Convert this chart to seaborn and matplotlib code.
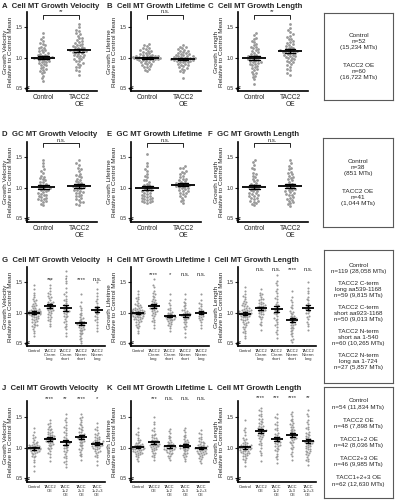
import numpy as np
import pandas as pd
import matplotlib
matplotlib.use('Agg')
import matplotlib.pyplot as plt
import seaborn as sns

sns.set_style('white')
plt.rcParams['font.family'] = ['Liberation Sans', 'DejaVu Sans']

# ---------------------------
# Datos (valores relativos a la media del control)
# ---------------------------
groups_oe = ['Control', 'TACC2\nOE']
groups_trunc = ['Control', 'TACC2\nC-term\nlong', 'TACC2\nC-term\nshort',
                'TACC2\nN-term\nshort', 'TACC2\nN-term\nlong']
groups_combo = ['Control', 'TACC2\nOE', 'TACC\n1+2\nOE', 'TACC\n2+3\nOE', 'TACC\n1+2+3\nOE']

# A - Cell velocity
a_ctrl = [1.40, 1.30, 1.27, 1.22, 1.18, 1.15, 1.12, 1.10, 1.07, 1.05, 1.03, 1.01, 1.00,
          0.99, 0.98, 0.96, 0.94, 0.92, 0.90, 0.88, 0.85, 0.82, 0.78, 0.74, 0.66, 0.62,
          1.34, 1.24, 1.20, 1.16, 1.13, 1.09, 1.06, 1.04, 1.02, 1.01, 1.00, 0.99, 0.97,
          0.95, 0.93, 0.91, 0.87, 0.83, 0.80, 0.76, 0.70]
a_oe = [1.55, 1.50, 1.44, 1.40, 1.36, 1.32, 1.29, 1.26, 1.23, 1.20, 1.18, 1.16, 1.14, 1.12,
        1.11, 1.09, 1.07, 1.05, 1.03, 1.01, 0.99, 0.97, 0.94, 0.91, 0.88, 0.84, 0.78, 0.72,
        1.46, 1.38, 1.33, 1.28, 1.24, 1.21, 1.19, 1.17, 1.15, 1.13, 1.12, 1.11, 1.10, 1.08,
        1.06, 1.04, 1.02, 0.98, 0.95, 0.90, 0.85, 0.80]
# B - Cell lifetime
b_ctrl = [1.22, 1.19, 1.16, 1.14, 1.12, 1.10, 1.08, 1.07, 1.05, 1.04, 1.03, 1.02, 1.01, 1.00,
          1.00, 0.99, 0.98, 0.97, 0.96, 0.95, 0.93, 0.92, 0.90, 0.88, 0.86, 0.84, 0.81, 0.78,
          1.20, 1.15, 1.11, 1.09, 1.06, 1.04, 1.03, 1.02, 1.01, 1.00, 0.99, 0.99, 0.98, 0.97,
          0.96, 0.94, 0.91, 0.89, 0.85, 0.80]
b_oe = [1.20, 1.17, 1.15, 1.13, 1.11, 1.09, 1.07, 1.06, 1.04, 1.03, 1.02, 1.01, 1.00, 0.99,
        0.98, 0.97, 0.96, 0.95, 0.93, 0.92, 0.90, 0.88, 0.86, 0.84, 0.82, 0.80, 0.76, 0.67,
        1.18, 1.14, 1.10, 1.08, 1.06, 1.04, 1.02, 1.01, 1.00, 0.99, 0.98, 0.97, 0.96, 0.95,
        0.94, 0.92, 0.89, 0.87, 0.83, 0.78]
# C - Cell length
c_ctrl = [1.40, 1.37, 1.30, 1.25, 1.20, 1.17, 1.14, 1.11, 1.08, 1.05, 1.02, 1.00, 0.98,
          0.96, 0.94, 0.92, 0.90, 0.88, 0.86, 0.83, 0.80, 0.77, 0.73, 0.68, 0.64, 0.57,
          1.33, 1.27, 1.22, 1.18, 1.15, 1.12, 1.09, 1.06, 1.03, 1.01, 0.99, 0.97, 0.95,
          0.93, 0.91, 0.89, 0.85, 0.81, 0.75, 0.70]
c_oe = [1.55, 1.48, 1.42, 1.38, 1.34, 1.30, 1.27, 1.24, 1.21, 1.19, 1.16, 1.14, 1.12, 1.10,
        1.09, 1.07, 1.05, 1.03, 1.01, 0.99, 0.97, 0.95, 0.92, 0.89, 0.85, 0.80, 0.74, 0.72,
        1.45, 1.36, 1.31, 1.26, 1.22, 1.18, 1.15, 1.13, 1.11, 1.10, 1.09, 1.08, 1.06, 1.04,
        1.02, 1.00, 0.96, 0.93, 0.87, 0.82]
# D - GC velocity
d_ctrl = [1.45, 1.35, 1.30, 1.25, 1.20, 1.16, 1.12, 1.09, 1.06, 1.03, 1.00, 0.98,
          0.96, 0.94, 0.92, 0.90, 0.88, 0.86, 0.84, 0.82, 0.80, 0.77, 0.74, 0.72,
          1.40, 1.28, 1.18, 1.14, 1.10, 1.05, 1.01, 0.99, 0.97, 0.93, 0.89, 0.85, 0.81, 0.78]
d_oe = [1.45, 1.38, 1.32, 1.27, 1.23, 1.19, 1.15, 1.11, 1.08, 1.05, 1.03, 1.01,
        0.99, 0.97, 0.95, 0.93, 0.91, 0.89, 0.86, 0.83, 0.80, 0.77, 0.74, 0.72,
        1.40, 1.30, 1.21, 1.17, 1.13, 1.09, 1.04, 1.02, 1.00, 0.96, 0.92, 0.87, 0.82, 0.76]
# E - GC lifetime
e_ctrl = [1.55, 1.35, 1.28, 1.22, 1.17, 1.13, 1.10, 1.07, 1.04, 1.01, 0.98, 0.96,
          0.94, 0.92, 0.90, 0.88, 0.86, 0.84, 0.83, 0.81, 0.79, 0.78, 0.76, 0.75,
          1.40, 1.30, 1.19, 1.12, 1.05, 1.02, 0.99, 0.95, 0.91, 0.87, 0.85, 0.82, 0.80, 0.77]
e_oe = [1.35, 1.32, 1.28, 1.24, 1.20, 1.17, 1.14, 1.11, 1.09, 1.07, 1.05, 1.04,
        1.03, 1.02, 1.00, 0.98, 0.96, 0.94, 0.92, 0.90, 0.87, 0.84, 0.80, 0.75,
        1.33, 1.26, 1.22, 1.15, 1.12, 1.08, 1.06, 1.04, 1.01, 0.99, 0.95, 0.91, 0.86, 0.78]
# F - GC length
f_ctrl = [1.45, 1.38, 1.30, 1.25, 1.20, 1.15, 1.11, 1.08, 1.05, 1.02, 1.00, 0.98,
          0.96, 0.94, 0.92, 0.90, 0.88, 0.86, 0.84, 0.82, 0.79, 0.77, 0.74, 0.72,
          1.42, 1.33, 1.22, 1.17, 1.13, 1.06, 1.01, 0.99, 0.95, 0.91, 0.87, 0.83, 0.78, 0.75]
f_oe = [1.45, 1.36, 1.30, 1.26, 1.22, 1.18, 1.14, 1.10, 1.07, 1.04, 1.02, 1.00,
        0.98, 0.96, 0.94, 0.92, 0.90, 0.88, 0.85, 0.82, 0.79, 0.76, 0.73, 0.70,
        1.40, 1.33, 1.24, 1.20, 1.16, 1.12, 1.05, 1.01, 0.97, 0.93, 0.89, 0.84, 0.80, 0.75]

# G - truncaciones, velocidad
g_ctrl = [1.45, 1.38, 1.33, 1.29, 1.25, 1.22, 1.19, 1.16, 1.14, 1.12, 1.10, 1.08, 1.06, 1.05,
          1.04, 1.03, 1.02, 1.01, 1.00, 1.00, 0.99, 0.98, 0.97, 0.96, 0.95, 0.94, 0.92, 0.91,
          0.90, 0.88, 0.86, 0.84, 0.82, 0.80, 0.78, 0.76, 0.73, 0.70, 0.66, 0.62,
          1.20, 1.11, 1.07, 1.05, 1.03, 1.02, 1.01, 1.00, 0.99, 0.98, 0.97, 0.96, 0.93,
          0.89, 0.85, 0.79]
g_cl = [1.55, 1.45, 1.40, 1.35, 1.31, 1.27, 1.24, 1.21, 1.18, 1.16, 1.14, 1.12, 1.10,
        1.09, 1.08, 1.06, 1.05, 1.03, 1.01, 0.99, 0.96, 0.93, 0.90, 0.86, 0.82, 0.78,
        1.33, 1.25, 1.17, 1.13, 1.11, 1.07, 1.04, 0.98, 0.92, 0.88]
g_cs = [1.68, 1.60, 1.48, 1.40, 1.34, 1.28, 1.23, 1.19, 1.15, 1.11, 1.08, 1.05,
        1.02, 1.00, 0.98, 0.95, 0.92, 0.89, 0.86, 0.82, 0.78, 0.73, 0.67, 0.62,
        1.52, 1.30, 1.20, 1.13, 1.06, 1.01, 0.94, 0.84, 0.76]
g_ns = [1.30, 1.18, 1.10, 1.04, 1.00, 0.96, 0.93, 0.90, 0.88, 0.86, 0.84, 0.82, 0.81,
        0.80, 0.79, 0.77, 0.75, 0.73, 0.71, 0.69, 0.67, 0.64, 0.61, 0.58, 0.54, 0.50,
        1.08, 0.98, 0.91, 0.85, 0.83, 0.80, 0.76, 0.72, 0.66, 0.56]
g_nl = [1.50, 1.38, 1.28, 1.22, 1.16, 1.11, 1.07, 1.03, 1.00, 0.97, 0.93, 0.89,
        0.85, 0.80, 0.75, 0.70, 1.32, 1.19, 1.09, 1.01, 0.95, 0.87]
# H - truncaciones, lifetime
h_ctrl = [1.35, 1.30, 1.26, 1.22, 1.19, 1.16, 1.14, 1.12, 1.10, 1.08, 1.07, 1.06, 1.05, 1.04,
          1.03, 1.02, 1.01, 1.00, 1.00, 0.99, 0.99, 0.98, 0.97, 0.96, 0.95, 0.94, 0.93, 0.92,
          0.91, 0.90, 0.89, 0.88, 0.86, 0.84, 0.82, 0.80, 0.77, 0.74, 0.70, 0.66,
          1.24, 1.13, 1.09, 1.06, 1.04, 1.03, 1.02, 1.01, 1.00, 0.99, 0.98, 0.97, 0.95,
          0.93, 0.90, 0.85, 0.78]
h_cl = [1.55, 1.42, 1.36, 1.32, 1.28, 1.25, 1.22, 1.19, 1.17, 1.15, 1.13, 1.11, 1.10,
        1.09, 1.07, 1.05, 1.03, 1.01, 0.99, 0.97, 0.94, 0.91, 0.88, 0.84, 0.80, 0.75,
        1.45, 1.30, 1.20, 1.14, 1.12, 1.08, 1.06, 1.02, 0.96, 0.86]
h_cs = [1.30, 1.20, 1.13, 1.08, 1.04, 1.01, 0.99, 0.97, 0.96, 0.95, 0.94, 0.93,
        0.92, 0.91, 0.90, 0.89, 0.88, 0.87, 0.85, 0.83, 0.81, 0.78, 0.74, 0.70,
        1.16, 1.06, 1.00, 0.96, 0.94, 0.92, 0.90, 0.86, 0.80]
h_ns = [1.30, 1.22, 1.16, 1.12, 1.08, 1.05, 1.03, 1.01, 0.99, 0.98, 0.97, 0.96,
        0.95, 0.94, 0.93, 0.91, 0.89, 0.87, 0.85, 0.82, 0.78, 0.73, 0.66, 0.60,
        1.18, 1.10, 1.04, 1.00, 0.97, 0.94, 0.90, 0.84, 0.76]
h_nl = [1.30, 1.20, 1.14, 1.10, 1.06, 1.03, 1.01, 0.99, 0.97, 0.95, 0.93, 0.91,
        0.88, 0.85, 0.80, 0.75, 1.16, 1.08, 1.02, 0.98, 0.94, 0.90]
# I - truncaciones, longitud
i_ctrl = [1.42, 1.35, 1.30, 1.26, 1.22, 1.19, 1.16, 1.14, 1.12, 1.10, 1.08, 1.06, 1.05, 1.04,
          1.03, 1.02, 1.01, 1.00, 0.99, 0.99, 0.98, 0.97, 0.96, 0.95, 0.94, 0.93, 0.92, 0.90,
          0.88, 0.87, 0.85, 0.83, 0.81, 0.79, 0.76, 0.73, 0.70, 0.66, 0.62, 0.58,
          1.28, 1.17, 1.11, 1.07, 1.04, 1.02, 1.01, 1.00, 0.99, 0.98, 0.97, 0.95, 0.92,
          0.89, 0.84, 0.77, 0.68]
i_cl = [1.38, 1.33, 1.29, 1.26, 1.23, 1.20, 1.18, 1.16, 1.14, 1.12, 1.10, 1.09, 1.08,
        1.07, 1.06, 1.04, 1.03, 1.01, 0.99, 0.97, 0.95, 0.92, 0.89, 0.85, 0.79, 0.72,
        1.31, 1.22, 1.15, 1.11, 1.09, 1.05, 1.02, 0.98, 0.93, 0.82]
i_cs = [1.62, 1.52, 1.45, 1.38, 1.32, 1.27, 1.22, 1.18, 1.14, 1.10, 1.07, 1.04,
        1.02, 1.00, 0.97, 0.94, 0.91, 0.88, 0.85, 0.81, 0.77, 0.72, 0.65, 0.58,
        1.48, 1.35, 1.24, 1.12, 1.05, 0.99, 0.90, 0.79, 0.68]
i_ns = [1.35, 1.25, 1.18, 1.12, 1.07, 1.03, 1.00, 0.97, 0.95, 0.93, 0.91, 0.89, 0.88,
        0.87, 0.85, 0.83, 0.81, 0.79, 0.77, 0.75, 0.72, 0.69, 0.66, 0.62, 0.57, 0.52,
        1.21, 1.09, 1.01, 0.94, 0.90, 0.86, 0.80, 0.74, 0.64, 0.55]
i_nl = [1.50, 1.40, 1.32, 1.26, 1.20, 1.15, 1.11, 1.08, 1.05, 1.02, 0.99, 0.95,
        0.90, 0.85, 0.78, 0.72, 1.36, 1.23, 1.13, 1.06, 1.00, 0.93, 0.82]

# J - combinaciones, velocidad
j_ctrl = [1.32, 1.25, 1.20, 1.16, 1.13, 1.10, 1.08, 1.06, 1.05, 1.04, 1.03, 1.02, 1.01, 1.00, 0.99,
          0.99, 0.98, 0.97, 0.96, 0.95, 0.94, 0.93, 0.91, 0.89, 0.87, 0.84, 0.80, 0.76, 0.70, 0.62,
          1.18, 1.09, 1.04, 1.02, 1.01, 1.00, 0.99, 0.98, 0.97, 0.95, 0.92, 0.86]
j_oe = [1.45, 1.40, 1.36, 1.33, 1.30, 1.28, 1.26, 1.24, 1.22, 1.20, 1.19, 1.17, 1.16, 1.15,
        1.14, 1.13, 1.11, 1.10, 1.08, 1.06, 1.04, 1.02, 1.00, 0.97, 0.94, 0.90, 0.85, 0.78,
        1.38, 1.31, 1.25, 1.21, 1.18, 1.15, 1.12, 1.09, 1.05, 0.99, 0.92]
j_12 = [1.55, 1.48, 1.42, 1.37, 1.32, 1.28, 1.24, 1.20, 1.16, 1.13, 1.10, 1.07,
        1.05, 1.03, 1.01, 0.99, 0.96, 0.93, 0.90, 0.87, 0.83, 0.79, 0.74, 0.68,
        1.45, 1.34, 1.26, 1.18, 1.11, 1.06, 1.00, 0.94, 0.85, 0.76]
j_23 = [1.55, 1.50, 1.45, 1.41, 1.37, 1.34, 1.31, 1.28, 1.25, 1.22, 1.20, 1.18, 1.16,
        1.15, 1.13, 1.11, 1.09, 1.07, 1.05, 1.02, 0.99, 0.96, 0.93, 0.90, 0.86, 0.80,
        1.48, 1.39, 1.32, 1.26, 1.21, 1.17, 1.14, 1.10, 1.04, 0.97, 0.88]
j_123 = [1.40, 1.33, 1.28, 1.24, 1.21, 1.18, 1.16, 1.14, 1.12, 1.11, 1.10, 1.09, 1.08, 1.07, 1.06,
         1.05, 1.04, 1.03, 1.02, 1.01, 1.00, 0.99, 0.97, 0.95, 0.93, 0.91, 0.88, 0.84, 0.79, 0.72,
         1.30, 1.22, 1.17, 1.13, 1.10, 1.08, 1.06, 1.04, 1.02, 0.98, 0.94, 0.86]
# K - combinaciones, lifetime
k_ctrl = [1.32, 1.25, 1.20, 1.16, 1.13, 1.10, 1.08, 1.06, 1.05, 1.04, 1.03, 1.02, 1.01, 1.00, 1.00,
          0.99, 0.98, 0.97, 0.96, 0.95, 0.94, 0.93, 0.92, 0.91, 0.90, 0.88, 0.86, 0.84, 0.81, 0.78,
          1.22, 1.12, 1.07, 1.04, 1.02, 1.01, 1.00, 0.99, 0.98, 0.96, 0.93, 0.89]
k_oe = [1.50, 1.38, 1.32, 1.27, 1.23, 1.20, 1.17, 1.15, 1.13, 1.11, 1.10, 1.09, 1.08, 1.07,
        1.06, 1.05, 1.04, 1.03, 1.02, 1.01, 1.00, 0.98, 0.96, 0.94, 0.91, 0.88, 0.84, 0.80,
        1.42, 1.29, 1.21, 1.16, 1.12, 1.09, 1.06, 1.04, 1.01, 0.97, 0.92, 0.86]
k_12 = [1.30, 1.24, 1.19, 1.15, 1.12, 1.09, 1.07, 1.05, 1.04, 1.03, 1.02, 1.01,
        1.00, 0.99, 0.98, 0.97, 0.96, 0.95, 0.93, 0.91, 0.89, 0.86, 0.83, 0.80,
        1.27, 1.17, 1.10, 1.06, 1.03, 1.01, 0.98, 0.96, 0.92, 0.87]
k_23 = [1.32, 1.26, 1.21, 1.17, 1.14, 1.11, 1.09, 1.07, 1.05, 1.04, 1.03, 1.02,
        1.01, 1.00, 0.99, 0.98, 0.96, 0.94, 0.92, 0.90, 0.88, 0.85, 0.82, 0.78,
        1.29, 1.19, 1.12, 1.08, 1.05, 1.02, 0.99, 0.96, 0.92, 0.86]
k_123 = [1.28, 1.22, 1.18, 1.14, 1.11, 1.09, 1.07, 1.05, 1.04, 1.03, 1.02, 1.01, 1.00, 1.00, 0.99,
         0.98, 0.97, 0.96, 0.95, 0.94, 0.93, 0.92, 0.91, 0.90, 0.88, 0.86, 0.84, 0.81, 0.78, 0.75,
         1.24, 1.16, 1.10, 1.06, 1.03, 1.01, 0.99, 0.97, 0.95, 0.92, 0.89, 0.83]
# L - combinaciones, longitud
l_ctrl = [1.45, 1.32, 1.25, 1.20, 1.16, 1.13, 1.10, 1.08, 1.06, 1.04, 1.03, 1.02, 1.01, 1.00, 0.99,
          0.98, 0.97, 0.96, 0.95, 0.94, 0.93, 0.92, 0.91, 0.90, 0.88, 0.86, 0.83, 0.80, 0.76, 0.70,
          1.28, 1.14, 1.07, 1.04, 1.02, 1.01, 1.00, 0.99, 0.97, 0.95, 0.92, 0.87, 0.82]
l_oe = [1.65, 1.60, 1.55, 1.51, 1.47, 1.44, 1.41, 1.38, 1.36, 1.34, 1.32, 1.30, 1.29, 1.28,
        1.27, 1.25, 1.23, 1.21, 1.19, 1.17, 1.14, 1.11, 1.08, 1.04, 1.00, 0.95, 0.88, 0.78,
        1.62, 1.53, 1.46, 1.40, 1.35, 1.31, 1.27, 1.24, 1.20, 1.15, 1.06, 0.92]
l_12 = [1.55, 1.48, 1.42, 1.37, 1.32, 1.28, 1.24, 1.21, 1.18, 1.16, 1.14, 1.12,
        1.10, 1.08, 1.06, 1.04, 1.02, 1.00, 0.97, 0.94, 0.90, 0.86, 0.81, 0.75,
        1.50, 1.39, 1.30, 1.23, 1.17, 1.13, 1.09, 1.03, 0.96, 0.84]
l_23 = [1.58, 1.52, 1.47, 1.43, 1.40, 1.37, 1.34, 1.31, 1.29, 1.27, 1.25, 1.23, 1.21,
        1.20, 1.18, 1.16, 1.14, 1.12, 1.10, 1.07, 1.04, 1.01, 0.97, 0.93, 0.87, 0.80,
        1.55, 1.45, 1.38, 1.33, 1.28, 1.24, 1.19, 1.15, 1.09, 1.00, 0.90]
l_123 = [1.62, 1.52, 1.45, 1.39, 1.34, 1.30, 1.26, 1.23, 1.20, 1.17, 1.15, 1.13, 1.11, 1.10, 1.09,
         1.08, 1.07, 1.05, 1.03, 1.01, 0.99, 0.97, 0.95, 0.93, 0.91, 0.88, 0.85, 0.82, 0.78, 0.72,
         1.55, 1.42, 1.32, 1.24, 1.19, 1.14, 1.11, 1.09, 1.06, 1.02, 0.98, 0.94, 0.89, 0.80]

# significancia
sig_a, sig_b, sig_c = '**', 'n.s.', '**'
sig_d, sig_e, sig_f = 'n.s.', 'n.s.', 'n.s.'
sig_g = ['***', '*', '****', 'n.s.']
sig_h = ['****', '*', 'n.s.', 'n.s.']
sig_i = ['n.s.', 'n.s.', '****', 'n.s.']
sig_j = ['****', '**', '****', '*']
sig_k = ['***', 'n.s.', 'n.s.', 'n.s.']
sig_l = ['****', '***', '****', '**']

box1 = 'Control\nn=52\n(15,234 MTs)\n\n\nTACC2 OE\nn=60\n(16,722 MTs)'
box2 = 'Control\nn=38\n(851 MTs)\n\n\nTACC2 OE\nn=41\n(1,044 MTs)'
box3 = ('Control\nn=119 (28,058 MTs)\n\nTACC2 C-term\nlong aa539-1168\nn=59 (9,815 MTs)\n\n'
        'TACC2 C-term\nshort aa923-1168\nn=50 (9,013 MTs)\n\nTACC2 N-term\nshort aa 1-540\n'
        'n=60 (10,265 MTs)\n\nTACC2 N-term\nlong aa 1-724\nn=27 (5,857 MTs)')
box4 = ('Control\nn=54 (11,834 MTs)\n\nTACC2 OE\nn=48 (7,898 MTs)\n\nTACC1+2 OE\nn=42 (8,036 MTs)\n\n'
        'TACC2+3 OE\nn=46 (9,985 MTs)\n\nTACC1+2+3 OE\nn=62 (12,630 MTs)')

ylab_v = 'Growth Velocity\nRelative to Control Mean'
ylab_l = 'Growth Lifetime\nRelative to Control Mean'
ylab_g = 'Growth Length\nRelative to Control Mean'

# ---------------------------
# Figura
# ---------------------------
W, H = 395, 500
fig = plt.figure(figsize=(W / 100, H / 100), dpi=100)


def px_axes(l, t, r, b):
    return fig.add_axes([l / W, 1 - b / H, (r - l) / W, (b - t) / H])


def draw_panel(ax, groups, values, ylabel, ylim, mean_w, dot, xfs):
    df = pd.DataFrame({'grp': np.repeat(groups, [len(v) for v in values]),
                       'val': np.concatenate(values)})
    sns.swarmplot(data=df, x='grp', y='val', order=groups, color='0.6',
                  size=dot, ax=ax, zorder=1, warn_thresh=1)
    sns.pointplot(data=df, x='grp', y='val', order=groups, errorbar='se', color='k',
                  marker='_', linestyle='none', markersize=mean_w, markeredgewidth=1.3,
                  capsize=0.3, err_kws={'linewidth': 1.0}, ax=ax)
    n = len(groups)
    ax.set_xlim(-0.45, n - 0.5)
    ax.set_ylim(*ylim)
    ax.set_yticks([0.5, 1.0, 1.5])
    ax.set_yticklabels(['0.5', '1.0', '1.5'], fontsize=3.6)
    ax.set_xticks(range(n))
    ax.set_xticklabels(groups, fontsize=xfs, linespacing=1.0)
    sns.despine(ax=ax)
    for s in ['left', 'bottom']:
        ax.spines[s].set_linewidth(1.2)
        ax.spines[s].set_color('k')
    ax.tick_params(axis='y', length=2, width=0.8, pad=1, direction='out', left=True)
    ax.tick_params(axis='x', length=0, pad=2)
    ax.set_xlabel('')
    ax.set_ylabel(ylabel, fontsize=4.6, labelpad=2, linespacing=1.1)
    ax.patch.set_alpha(0)
    # marca de corte del eje
    ax.plot([-0.02, 0.03], [0.035, 0.055], transform=ax.transAxes, color='k', lw=0.6, clip_on=False)
    ax.plot([-0.02, 0.03], [0.015, 0.035], transform=ax.transAxes, color='k', lw=0.6, clip_on=False)


def bracket(ax, txt, y, drop):
    ax.plot([0, 0, 1, 1], [y - drop, y, y, y - drop], color='k', lw=0.6, clip_on=False)
    ax.text(0.5, y + 0.01, txt, ha='center', va='bottom', fontsize=4.2, clip_on=False)


def stars(ax, labels, y):
    for k, s in enumerate(labels):
        ax.text(k + 1, y, s, ha='center', va='bottom', fontsize=4.2, clip_on=False)


def text_box(l, t, r, b, txt, fs, ls):
    bx = px_axes(l, t, r, b)
    bx.set_xticks([])
    bx.set_yticks([])
    for s in bx.spines.values():
        s.set_linewidth(0.8)
        s.set_color('0.35')
    bx.text(0.5, 0.5, txt, ha='center', va='center', fontsize=fs, linespacing=ls,
            transform=bx.transAxes)


rows = [(12, 91, (0.45, 1.75)), (142, 222, (0.44, 1.75)),
        (267, 346, (0.45, 1.75)), (401, 482, (0.44, 1.76))]
title_y = [6, 134, 260, 389]
title_x = [2, 107, 208]
lefts = [27, 131, 238]

panel_specs = [
    # fila 1
    ('A', 'Cell MT Growth Velocity', groups_oe, [a_ctrl, a_oe], ylab_v, sig_a),
    ('B', 'Cell MT Growth Lifetime', groups_oe, [b_ctrl, b_oe], ylab_l, sig_b),
    ('C', 'Cell MT Growth Length', groups_oe, [c_ctrl, c_oe], ylab_g, sig_c),
    # fila 2
    ('D', 'GC MT Growth Velocity', groups_oe, [d_ctrl, d_oe], ylab_v, sig_d),
    ('E', 'GC MT Growth Lifetime', groups_oe, [e_ctrl, e_oe], ylab_l, sig_e),
    ('F', 'GC MT Growth Length', groups_oe, [f_ctrl, f_oe], ylab_g, sig_f),
    # fila 3
    ('G', 'Cell MT Growth Velocity', groups_trunc, [g_ctrl, g_cl, g_cs, g_ns, g_nl], ylab_v, sig_g),
    ('H', 'Cell MT Growth Lifetime', groups_trunc, [h_ctrl, h_cl, h_cs, h_ns, h_nl], ylab_l, sig_h),
    ('I', 'Cell MT Growth Length', groups_trunc, [i_ctrl, i_cl, i_cs, i_ns, i_nl], ylab_g, sig_i),
    # fila 4
    ('J', 'Cell MT Growth Velocity', groups_combo, [j_ctrl, j_oe, j_12, j_23, j_123], ylab_v, sig_j),
    ('K', 'Cell MT Growth Lifetime', groups_combo, [k_ctrl, k_oe, k_12, k_23, k_123], ylab_l, sig_k),
    ('L', 'Cell MT Growth Length', groups_combo, [l_ctrl, l_oe, l_12, l_23, l_123], ylab_g, sig_l),
]

star_y = {'G': 1.50, 'H': 1.58, 'I': 1.67, 'J': 1.76, 'K': 1.76, 'L': 1.78}

for idx, (letter, title, groups, values, ylabel, sig) in enumerate(panel_specs):
    r, c = divmod(idx, 3)
    top, bottom, ylim = rows[r]
    two = len(groups) == 2
    width = 70 if two else 78
    ax = px_axes(lefts[c], top, lefts[c] + width, bottom)
    if two:
        draw_panel(ax, groups, values, ylabel, ylim, mean_w=17, dot=2.0, xfs=4.8)
        if r == 0:
            bracket(ax, sig, 1.70, 0.07)
        else:
            bracket(ax, sig, 1.73, 0.06)
    else:
        draw_panel(ax, groups, values, ylabel, ylim, mean_w=9, dot=1.5, xfs=2.9)
        stars(ax, sig, star_y[letter])
    fig.text((title_x[c]) / W, 1 - title_y[r] / H, letter + '  ' + title,
             fontsize=5.6, fontweight='bold', ha='left', va='center')

text_box(324, 13, 393, 100, box1, 4.6, 1.25)
text_box(323, 138, 393, 227, box2, 4.6, 1.25)
text_box(324, 250, 393, 383, box3, 4.5, 1.25)
text_box(324, 387, 393, 498, box4, 4.5, 1.35)

fig.savefig('out.png', dpi=100)
